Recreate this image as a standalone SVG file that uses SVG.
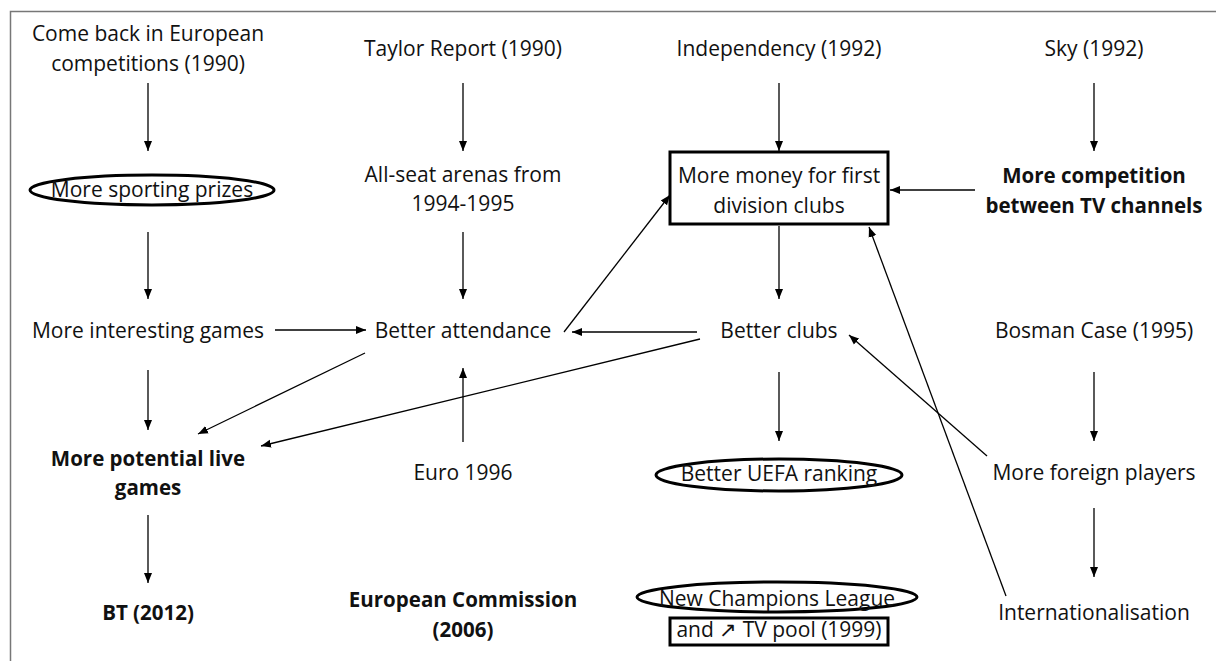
<svg xmlns="http://www.w3.org/2000/svg" width="1216" height="661" viewBox="0 0 1216 661">
<defs>
<marker id="ah" viewBox="0 0 10 10" refX="10" refY="5" markerWidth="10" markerHeight="10" markerUnits="userSpaceOnUse" orient="auto">
<path d="M0,1 L10,5 L0,9 Z" fill="#000"/>
</marker>
<style>
text{font-family:"Open Sans","Liberation Sans",Arial,sans-serif;font-size:21px;fill:#111;text-anchor:middle}
.b{font-weight:bold;font-size:20.5px}
.c line{stroke:#000;stroke-width:1.3;marker-end:url(#ah)}
.ov{fill:none;stroke:#000;stroke-width:3}
</style>
</defs>
<rect width="1216" height="661" fill="#fff"/>
<g id="frame"><path d="M10.5,661 V11.5 H1216" fill="none" stroke="#777" stroke-width="1.5"/></g>

<g id="n-comeback"><text x="148" y="41">Come back in European</text><text x="148" y="71">competitions (1990)</text></g>
<g id="n-prizes"><ellipse class="ov" cx="152" cy="190" rx="122" ry="15"/><text x="152" y="197">More sporting prizes</text></g>
<g id="n-interesting"><text x="148" y="338">More interesting games</text></g>
<g id="n-potential"><text class="b" x="148" y="466">More potential live</text><text class="b" x="148" y="495">games</text></g>
<g id="n-bt"><text class="b" x="148" y="620">BT (2012)</text></g>

<g id="n-taylor"><text x="463" y="56">Taylor Report (1990)</text></g>
<g id="n-allseat"><text x="463" y="182">All-seat arenas from</text><text x="463" y="211">1994-1995</text></g>
<g id="n-attendance"><text x="463" y="338">Better attendance</text></g>
<g id="n-euro"><text x="463" y="480">Euro 1996</text></g>
<g id="n-ec"><text class="b" x="463" y="607">European Commission</text><text class="b" x="463" y="637">(2006)</text></g>

<g id="n-independency"><text x="779" y="56">Independency (1992)</text></g>
<g id="n-money"><rect class="ov" x="670" y="152" width="218" height="72"/><text x="779" y="183">More money for first</text><text x="779" y="213">division clubs</text></g>
<g id="n-clubs"><text x="779" y="338">Better clubs</text></g>
<g id="n-uefa"><ellipse class="ov" cx="779" cy="475" rx="123" ry="16"/><text x="779" y="481">Better UEFA ranking</text></g>
<g id="n-cl"><ellipse class="ov" cx="777" cy="597" rx="140" ry="15"/><rect class="ov" x="670" y="618" width="218" height="27"/><text x="777" y="606">New Champions League</text><text x="779" y="637">and ↗ TV pool (1999)</text></g>

<g id="n-sky"><text x="1094" y="56">Sky (1992)</text></g>
<g id="n-competition"><text class="b" x="1094" y="183">More competition</text><text class="b" x="1094" y="213">between TV channels</text></g>
<g id="n-bosman"><text x="1094" y="338">Bosman Case (1995)</text></g>
<g id="n-foreign"><text x="1094" y="480">More foreign players</text></g>
<g id="n-intl"><text x="1094" y="620">Internationalisation</text></g>

<g id="connectors" class="c">
<line x1="148" y1="83" x2="148" y2="151"/>
<line x1="148" y1="232" x2="148" y2="299"/>
<line x1="148" y1="370" x2="148" y2="430"/>
<line x1="148" y1="515" x2="148" y2="583"/>
<line x1="463" y1="83" x2="463" y2="151"/>
<line x1="463" y1="232" x2="463" y2="299"/>
<line x1="463" y1="442" x2="463" y2="368"/>
<line x1="779" y1="83" x2="779" y2="151"/>
<line x1="779" y1="226" x2="779" y2="299"/>
<line x1="779" y1="372" x2="779" y2="441"/>
<line x1="1094" y1="83" x2="1094" y2="151"/>
<line x1="1094" y1="372" x2="1094" y2="441"/>
<line x1="1094" y1="508" x2="1094" y2="577"/>
<line x1="275" y1="330" x2="366" y2="330"/>
<line x1="697" y1="332" x2="572" y2="332"/>
<line x1="975" y1="190" x2="890" y2="190"/>
<line x1="564" y1="332" x2="670" y2="195"/>
<line x1="365" y1="353" x2="198" y2="434"/>
<line x1="700" y1="339" x2="261" y2="446"/>
<line x1="987" y1="456" x2="849" y2="335"/>
<line x1="1006" y1="596" x2="869" y2="227"/>
</g>
</svg>
